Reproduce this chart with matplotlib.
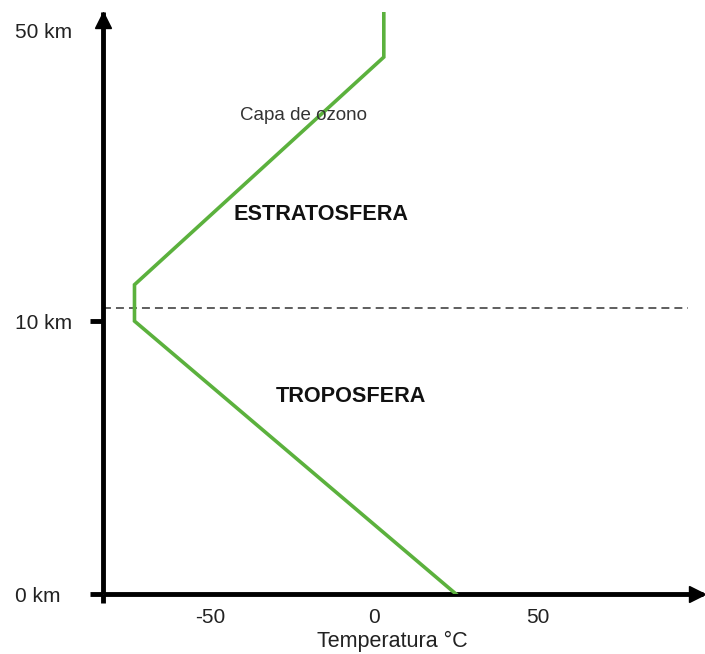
import numpy as np
import matplotlib
matplotlib.use("Agg")
import matplotlib.pyplot as plt
import matplotlib.transforms as mtransforms

# temperature profile (schematic)
temp_c = [25, -73, -73, 3, 3]
alt_km = [0, 10, 15, 46.3, 52.5]
tropopause_km = 11.8

y_ticks = [0, 10, 50]
y_ticklabels = ["0 km", "10 km", "50 km"]
x_ticks = [-50, 0, 50]

labels = [("ESTRATOSFERA", -16.2, 24.6, True),
          ("TROPOSFERA", -7.0, 7.25, True),
          ("Capa de ozono", -21.6, 38.3, False)]

GREEN = "#5BB13D"
plt.rcParams["font.family"] = ["Liberation Sans", "DejaVu Sans"]
plt.rcParams["axes.unicode_minus"] = False


# schematic, piecewise-linear altitude axis (0-10 km stretched)
def fwd(y):
    y = np.asarray(y, dtype=float)
    return np.where(y <= 10, y * 27.3, 273 + (y - 10) * 7.275)


def inv(v):
    v = np.asarray(v, dtype=float)
    return np.where(v <= 273, v / 27.3, 10 + (v - 273) / 7.275)


fig = plt.figure(figsize=(7.05, 6.54), dpi=100)
ax = fig.add_axes([103 / 705, 60 / 654, 600 / 705, 582 / 654])
ax.set_yscale("function", functions=(fwd, inv))
ax.set_xlim(-82.6, 100.3)
ax.set_ylim(0, 52.5)

ax.plot(temp_c, alt_km, color=GREEN, lw=2.6, solid_joinstyle="miter", zorder=3)
ax.plot([-82.6, 95.7], [tropopause_km] * 2, color="#333333", lw=1.1,
        dashes=(5.2, 3.3), zorder=2)

for txt, x, y, bold in labels:
    ax.text(x, y, txt, ha="center", va="center",
            fontsize=15.6 if bold else 13.5, color="#111111" if bold else "#333333",
            fontweight="bold" if bold else "normal")

for s in ["top", "right"]:
    ax.spines[s].set_visible(False)
for s in ["left", "bottom"]:
    ax.spines[s].set_linewidth(3.5)
    ax.spines[s].set_color("black")
    ax.spines[s].set_capstyle("butt")

ax.set_yticks(y_ticks)
ax.set_yticklabels(y_ticklabels)
ax.yaxis.set_minor_locator(matplotlib.ticker.NullLocator())
ax.tick_params(axis="y", which="major", length=9.5, width=3.5, direction="out",
               pad=13, labelsize=15, labelcolor="#222222")
ax.yaxis.get_major_ticks()[2].tick1line.set_visible(False)
# "0 km" sits a little further left in the original
lbl0 = ax.yaxis.get_major_ticks()[0].label1
lbl0.set_transform(lbl0.get_transform()
                   + mtransforms.ScaledTranslation(-8 / 72, 0, fig.dpi_scale_trans))

ax.set_xticks(x_ticks)
ax.set_xticks([-82.6], minor=True)
ax.tick_params(axis="x", which="major", length=0, pad=10, labelsize=15,
               labelcolor="#222222")
ax.tick_params(axis="x", which="minor", length=6.5, width=3.5, direction="out")
ax.set_xlabel("Temperatura °C", fontsize=15.5, color="#222222")
ax.xaxis.set_label_coords(0.483, -0.064)
ax.xaxis.label.set_va("top")

# arrow heads
up = mtransforms.offset_copy(ax.transAxes, fig=fig, y=-5.8, units="points")
ax.plot([0], [1], marker="^", ms=12, color="black", transform=up, clip_on=False)
right = mtransforms.offset_copy(ax.transAxes, fig=fig, x=-4.0, units="points")
ax.plot([1], [0], marker=">", ms=12, color="black", transform=right, clip_on=False)

fig.savefig("out.png", dpi=100)
